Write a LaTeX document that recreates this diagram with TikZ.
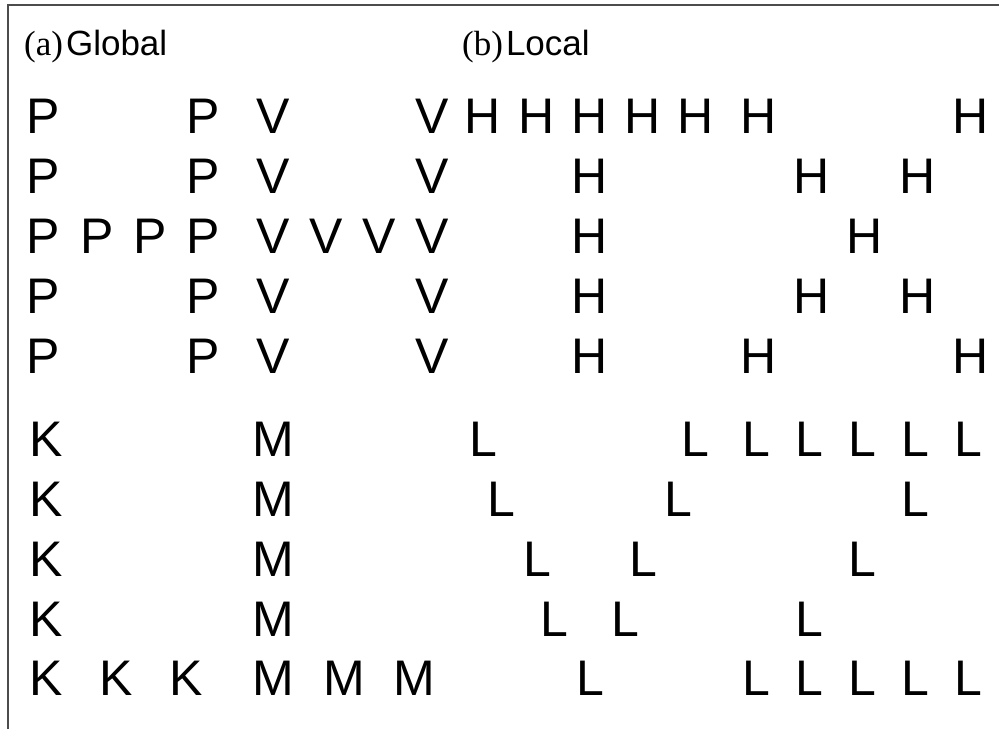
\documentclass[tikz,border=0pt]{standalone}
\usepackage{fontspec}
\setmainfont{Liberation Sans}
\newfontfamily\labelserif{Liberation Serif}
\tikzset{
  glyph/.style = {inner sep=0pt, anchor=base, font=\fontsize{50}{60}\selectfont},
  heading/.style = {inner sep=0pt, anchor=base west, font=\fontsize{35}{42}\selectfont},
  frameline/.style = {line width=1.5pt, black!70},
}
\begin{document}
\begin{tikzpicture}[x=1pt, y=-1pt]
      \useasboundingbox (0,0) rectangle (999,729);
      \draw[frameline] (8,729) -- (8,5) -- (999,5);

      \node[heading] (global) at (24,55) {{\labelserif (a)}\kern3pt Global};
      \node[heading] (local) at (462,55) {{\labelserif (b)}\kern3pt Local};

      % (a) global: P and V built from P's and V's
      \foreach \x [count=\i] in {43,203} {
        \node[glyph] (p1-\i) at (\x,133) {P};
        \node[glyph] (p2-\i) at (\x,193) {P};
        \node[glyph] (p4-\i) at (\x,313) {P};
        \node[glyph] (p5-\i) at (\x,373) {P};
      }
      \foreach \x [count=\i] in {43,97,150,203} \node[glyph] (p3-\i) at (\x,253) {P};
      \foreach \x [count=\i] in {273,432} {
        \node[glyph] (v1-\i) at (\x,133) {V};
        \node[glyph] (v2-\i) at (\x,193) {V};
        \node[glyph] (v4-\i) at (\x,313) {V};
        \node[glyph] (v5-\i) at (\x,373) {V};
      }
      \foreach \x [count=\i] in {273,326,379,432} \node[glyph] (v3-\i) at (\x,253) {V};

      % (b) local: T and X built from H's
      \foreach \x [count=\i] in {483,537,590,643,696,759,971} \node[glyph] (h1-\i) at (\x,133) {H};
      \foreach \x [count=\i] in {590,812,918} \node[glyph] (h2-\i) at (\x,193) {H};
      \foreach \x [count=\i] in {590,865} \node[glyph] (h3-\i) at (\x,253) {H};
      \foreach \x [count=\i] in {590,812,918} \node[glyph] (h4-\i) at (\x,313) {H};
      \foreach \x [count=\i] in {590,759,971} \node[glyph] (h5-\i) at (\x,373) {H};

      % (a) global: L and N built from K's and M's
      \foreach \y [count=\i] in {456,516,576,636} {
        \node[glyph] (k\i-1) at (46,\y) {K};
        \node[glyph] (m\i-1) at (273,\y) {M};
      }
      \foreach \x [count=\i] in {46,116,186} \node[glyph] (k5-\i) at (\x,695) {K};
      \foreach \x [count=\i] in {273,344,414} \node[glyph] (m5-\i) at (\x,695) {M};

      % (b) local: V and Z built from L's
      \foreach \x [count=\i] in {483,695,756,809,862,915,968} \node[glyph] (l1-\i) at (\x,456) {L};
      \foreach \x [count=\i] in {501,678,915} \node[glyph] (l2-\i) at (\x,516) {L};
      \foreach \x [count=\i] in {537,643,862} \node[glyph] (l3-\i) at (\x,576) {L};
      \foreach \x [count=\i] in {554,625,809} \node[glyph] (l4-\i) at (\x,636) {L};
      \foreach \x [count=\i] in {590,756,809,862,915,968} \node[glyph] (l5-\i) at (\x,695) {L};
    \end{tikzpicture}
\end{document}
